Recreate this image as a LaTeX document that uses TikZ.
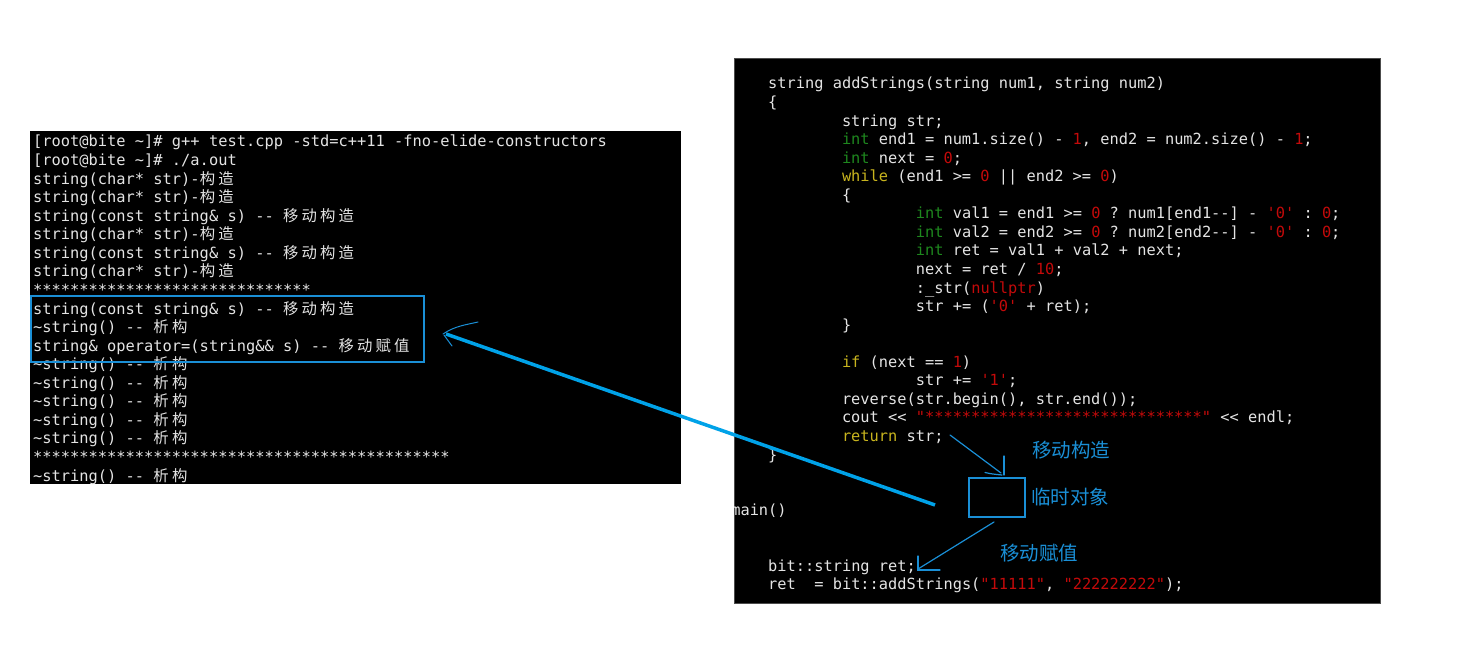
\documentclass[tikz,border=0pt]{standalone}
\usepackage{fontspec}
\setmonofont{DejaVu Sans Mono}
\newfontfamily\cjkt[LetterSpace=20.4]{Noto Sans CJK SC}
\newfontfamily\cjkl{Noto Sans CJK SC}
\definecolor{tw}{RGB}{228,228,228}
\definecolor{kgreen}{RGB}{30,135,30}
\definecolor{kyellow}{RGB}{200,180,30}
\definecolor{kred}{RGB}{195,10,10}
\definecolor{annblue}{RGB}{26,143,214}
\definecolor{bigblue}{RGB}{0,162,232}
\newcommand\kwG[1]{\textcolor{kgreen}{#1}}
\newcommand\kwY[1]{\textcolor{kyellow}{#1}}
\newcommand\kwR[1]{\textcolor{kred}{#1}}
\newcommand\zh[1]{{\cjkt #1}}
\tikzset{
  term/.style={anchor=base west, inner sep=0, text=tw, font=\ttfamily\frenchspacing\fontsize{15.37}{15.37}\selectfont},
  codeln/.style={anchor=base west, inner sep=0, text=tw, font=\ttfamily\frenchspacing\fontsize{15.33}{15.33}\selectfont},
  panel/.style={fill=black, anchor=north west, inner sep=0, outer sep=0},
  lab/.style={anchor=west, inner sep=0, text=annblue, font=\cjkl\fontsize{19.5}{19.5}\selectfont},
  thinann/.style={draw=annblue, line width=1.2pt, line cap=round},
}
\begin{document}
\begin{tikzpicture}[x=1pt,y=-1pt]
\useasboundingbox (0,0) rectangle (1470,655);
% left terminal
\node[panel, minimum width=651, minimum height=353] (termp) at (30,131) {};
\node[term] (t0) at (33,{147+18.56*0}) {[root@bite \textasciitilde]\# g++ test.cpp -std=c++11 -fno-elide-constructors};
\node[term] (t1) at (33,{147+18.56*1}) {[root@bite \textasciitilde]\# ./a.out};
\node[term] (t2) at (33,{147+18.56*2}) {string(char* str)-\zh{构造}};
\node[term] (t3) at (33,{147+18.56*3}) {string(char* str)-\zh{构造}};
\node[term] (t4) at (33,{147+18.56*4}) {string(const string\& s) -{}- \zh{移动构造}};
\node[term] (t5) at (33,{147+18.56*5}) {string(char* str)-\zh{构造}};
\node[term] (t6) at (33,{147+18.56*6}) {string(const string\& s) -{}- \zh{移动构造}};
\node[term] (t7) at (33,{147+18.56*7}) {string(char* str)-\zh{构造}};
\node[term] (t8) at (33,{147+18.56*8}) {******************************};
\node[term] (t9) at (33,{147+18.56*9}) {string(const string\& s) -{}- \zh{移动构造}};
\node[term] (t10) at (33,{147+18.56*10}) {\textasciitilde string() -{}- \zh{析构}};
\node[term] (t11) at (33,{147+18.56*11}) {string\& operator=(string\&\& s) -{}- \zh{移动赋值}};
\node[term] (t12) at (33,{147+18.56*12}) {\textasciitilde string() -{}- \zh{析构}};
\node[term] (t13) at (33,{147+18.56*13}) {\textasciitilde string() -{}- \zh{析构}};
\node[term] (t14) at (33,{147+18.56*14}) {\textasciitilde string() -{}- \zh{析构}};
\node[term] (t15) at (33,{147+18.56*15}) {\textasciitilde string() -{}- \zh{析构}};
\node[term] (t16) at (33,{147+18.56*16}) {\textasciitilde string() -{}- \zh{析构}};
\node[term] (t17) at (33,{147+18.56*17}) {*********************************************};
\node[term] (t18) at (33,{147+18.56*18}) {\textasciitilde string() -{}- \zh{析构}};
% highlight box
\node[draw=annblue, line width=1.6pt, anchor=north west, inner sep=0, minimum width=393, minimum height=66] (hl) at (30,295) {};
% right code panel
\node[panel, draw=black!70, line width=0.6pt, minimum width=646, minimum height=545] (codep) at (734,58) {};
\begin{scope}
\clip (734,58) rectangle (1380,603);
\node[codeln] (c0) at (768,{89+18.55*0}) {string addStrings(string num1, string num2)};
\node[codeln] (c1) at (768,{89+18.55*1}) {\{};
\node[codeln] (c2) at (841.8,{89+18.55*2}) {string str;};
\node[codeln] (c3) at (841.8,{89+18.55*3}) {\kwG{int} end1 = num1.size() - \kwR{1}, end2 = num2.size() - \kwR{1};};
\node[codeln] (c4) at (841.8,{89+18.55*4}) {\kwG{int} next = \kwR{0};};
\node[codeln] (c5) at (841.8,{89+18.55*5}) {\kwY{while} (end1 >= \kwR{0} || end2 >= \kwR{0})};
\node[codeln] (c6) at (841.8,{89+18.55*6}) {\{};
\node[codeln] (c7) at (915.7,{89+18.55*7}) {\kwG{int} val1 = end1 >= \kwR{0} ? num1[end1-{}-] - \kwR{'0'} : \kwR{0};};
\node[codeln] (c8) at (915.7,{89+18.55*8}) {\kwG{int} val2 = end2 >= \kwR{0} ? num2[end2-{}-] - \kwR{'0'} : \kwR{0};};
\node[codeln] (c9) at (915.7,{89+18.55*9}) {\kwG{int} ret = val1 + val2 + next;};
\node[codeln] (c10) at (915.7,{89+18.55*10}) {next = ret / \kwR{10};};
\node[codeln] (c11) at (915.7,{89+18.55*11}) {:\_str(\kwR{nullptr})};
\node[codeln] (c12) at (915.7,{89+18.55*12}) {str += (\kwR{'0'} + ret);};
\node[codeln] (c13) at (841.8,{89+18.55*13}) {\}};
\node[codeln] (c15) at (841.8,{89+18.55*15}) {\kwY{if} (next == \kwR{1})};
\node[codeln] (c16) at (915.7,{89+18.55*16}) {str += \kwR{'1'};};
\node[codeln] (c17) at (841.8,{89+18.55*17}) {reverse(str.begin(), str.end());};
\node[codeln] (c18) at (841.8,{89+18.55*18}) {cout << \kwR{"******************************"} << endl;};
\node[codeln] (c19) at (841.8,{89+18.55*19}) {\kwY{return} str;};
\node[codeln] (c20) at (768,{89+18.55*20}) {\}};
\node[codeln] (c23) at (731.1,{89+18.55*23}) {main()};
\node[codeln] (c26) at (768,{89+18.55*26}) {bit::string ret;};
\node[codeln] (c27) at (768,{89+18.55*27}) {ret\ \ = bit::addStrings(\kwR{"11111"}, \kwR{"222222222"});};
\end{scope}
% temporary object box and labels
\node[draw=annblue, line width=1.8pt, minimum width=56, minimum height=39, inner sep=0] (tmp) at (997,497.5) {};
\node[lab] (lmc) at (1032,450) {移动构造};
\node[lab] (ltmp) at (1031,497) {临时对象};
\node[lab] (lma) at (1000,553) {移动赋值};
% upper arrow (return str -> temp)
\coordinate (ua0) at (950,435);
\coordinate (ua1) at (1001,473);
\draw[thinann] (ua0) -- (ua1);
\draw[thinann] (1004,456) -- (1004,475);
\draw[thinann] (985,472.5) .. controls (992,474) .. (1002,475);
% lower arrow (temp -> ret)
\coordinate (la0) at (994,522);
\coordinate (la1) at (918,569);
\draw[thinann] (la0) -- (la1);
\draw[thinann] (918,556) -- (918,570) -- (940,570);
% long arrow
\coordinate (ls) at (935,505);
\coordinate (lt) at (446,334);
\draw[draw=bigblue, line width=3.5pt] (ls) -- (lt);
\draw[draw=annblue, line width=1pt, line cap=round] (443,334) .. controls (455,326) and (465,325) .. (478,322);
\draw[draw=annblue, line width=1pt, line cap=round] (444,335) -- (452,346);
\end{tikzpicture}
\end{document}
